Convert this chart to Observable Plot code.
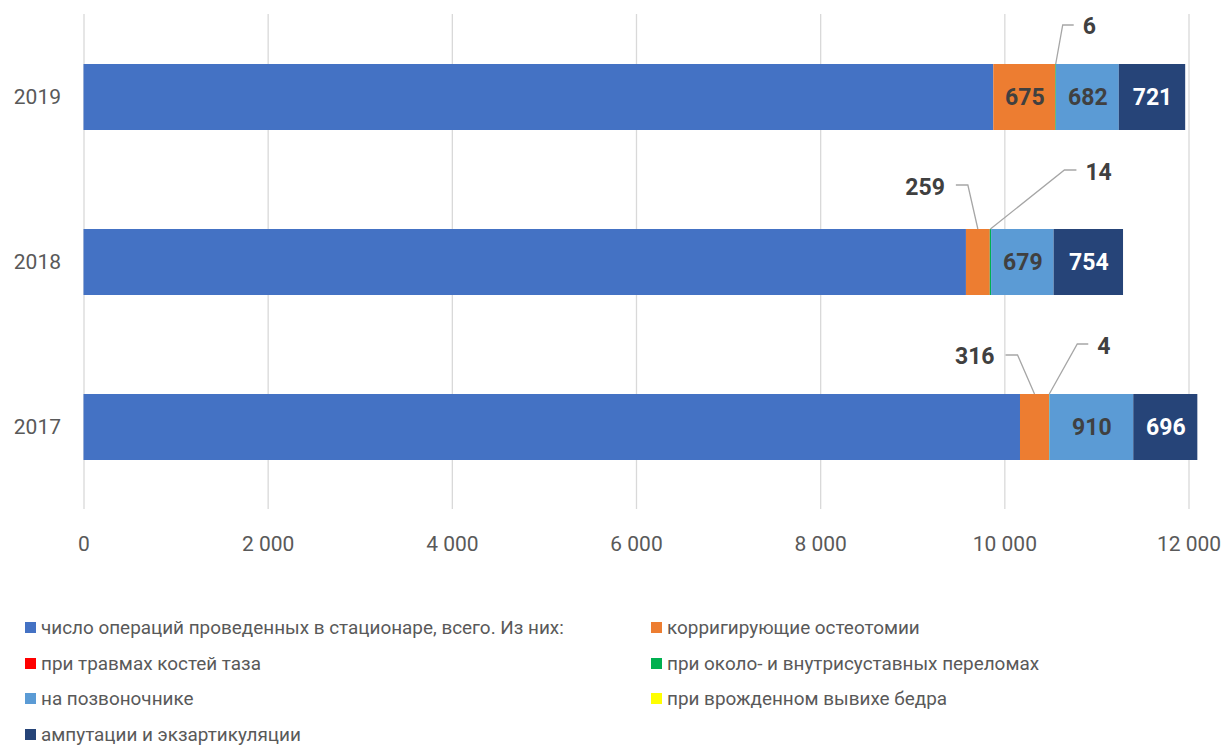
<!DOCTYPE html>
<html><head><meta charset="utf-8">
<script src="https://cdn.jsdelivr.net/npm/d3@7"></script>
<script src="https://cdn.jsdelivr.net/npm/@observablehq/plot@0.6"></script>
<style>
body{margin:0;background:#fff;font-family:Roboto,"Open Sans",sans-serif;}
#chart svg{display:block;}
#legend{display:grid;grid-template-columns:626px 560px;padding:20px 0 0 25px;}
.item{height:35.5px;display:flex;align-items:center;font-size:18.9px;color:#595959;white-space:nowrap;}
.sw{width:11px;height:11px;margin-right:5px;flex:none;}
</style></head><body>
<div id="chart"></div>
<div id="legend"></div>
<script>
// ---- data ----
const years = ["2019", "2018", "2017"];
const seriesNames = [
  "число операций проведенных в стационаре, всего. Из них:",
  "корригирующие остеотомии",
  "при травмах костей таза",
  "при около- и внутрисуставных переломах",
  "на позвоночнике",
  "при врожденном вывихе бедра",
  "ампутации и экзартикуляции"
];
const seriesColors = ["#4472C4", "#ED7D31", "#FF0000", "#00B050", "#5B9BD5", "#FFFF00", "#264478"];
const totalOps      = [9880, 9583, 10170];
const osteotomy     = [675, 259, 316];
const pelvis        = [0, 0, 0];
const periArticular = [6, 14, 4];
const spine         = [682, 679, 910];
const congenitalHip = [0, 0, 0];
const amputation    = [721, 754, 696];
const xTicks = [0, 2000, 4000, 6000, 8000, 10000, 12000];

const seriesValues = [totalOps, osteotomy, pelvis, periArticular, spine, congenitalHip, amputation];
// which labels are shown inside bars (series index) and which as callouts
const insideLabelSeries = [4, 6];
const insideExtra = [{year: "2019", s: 1}];
// callouts: series index, year, pixel leader offsets relative to segment middle at bar top
const callouts = [
  {year: "2019", s: 3, elbow: [7, -39], end: [18, -39], text: [27, -38], anchor: "start"},
  {year: "2018", s: 3, elbow: [74, -59], end: [86, -59], text: [95, -57], anchor: "start"},
  {year: "2017", s: 3, elbow: [28, -50], end: [39, -50], text: [48, -48], anchor: "start"},
  {year: "2018", s: 1, elbow: [-10, -44], end: [-22, -44], text: [-33, -42], anchor: "end"},
  {year: "2017", s: 1, elbow: [-17, -39], end: [-29, -39], text: [-40, -38], anchor: "end"}
];

// ---- build table ----
const data = [];
years.forEach((y, yi) => {
  seriesNames.forEach((name, si) => {
    data.push({year: y, series: name, si, value: seriesValues[si][yi]});
  });
});
const showInside = d => insideLabelSeries.includes(d.si) || insideExtra.some(e => e.year === d.year && e.s === d.si);

const fmt = d => d3.format(",")(d).replace(/,/g, "\u00a0");
const labelFont = "Roboto, sans-serif";

const plot = Plot.plot({
  width: 1224,
  height: 590,
  marginLeft: 83.5,
  marginRight: 35.5,
  marginTop: 14,
  marginBottom: 81,
  style: {fontFamily: labelFont, background: "#fff"},
  x: {domain: [0, 12000], ticks: xTicks, tickFormat: fmt, label: null},
  y: {domain: years, paddingInner: 0.6, paddingOuter: 0.3, label: null},
  color: {domain: seriesNames, range: seriesColors},
  marks: [
    Plot.gridX(xTicks, {stroke: "#d9d9d9", strokeOpacity: 1, strokeWidth: 1.3}),
    Plot.barX(data, Plot.stackX({x: "value", y: "year", fill: "series", order: seriesNames})),
    Plot.text(data, Plot.stackX({
      x: "value", y: "year", order: seriesNames,
      text: d => showInside(d) ? String(d.value) : null,
      fill: d => d.si === 6 ? "#ffffff" : "#404040",
      fontSize: 23, fontWeight: "bold"
    })),
    Plot.axisX({ticks: xTicks, tickFormat: fmt, tickSize: 0, tickPadding: 27, fontSize: 21, fill: "#595959", label: null}),
    Plot.axisY({tickSize: 0, tickPadding: 23, fontSize: 21, fill: "#595959", label: null})
  ]
});
document.getElementById("chart").appendChild(plot);

// ---- callouts with leader lines, positioned through the plot's scales ----
const xs = plot.scale("x"), ys = plot.scale("y");
const svg = d3.select(plot);
const g = svg.append("g");
callouts.forEach(c => {
  const yi = years.indexOf(c.year);
  let start = 0;
  for (let i = 0; i < c.s; i++) start += seriesValues[i][yi];
  const v = seriesValues[c.s][yi];
  const ax = xs.apply(start + v / 2);
  const ay = ys.apply(c.year);
  g.append("path")
    .attr("d", `M${ax},${ay}L${ax + c.elbow[0]},${ay + c.elbow[1]}L${ax + c.end[0]},${ay + c.end[1]}`)
    .attr("fill", "none").attr("stroke", "#a6a6a6").attr("stroke-width", 1.3);
  g.append("text")
    .attr("x", ax + c.text[0]).attr("y", ay + c.text[1])
    .attr("dy", "0.35em")
    .attr("text-anchor", c.anchor)
    .attr("font-family", labelFont).attr("font-size", 23).attr("font-weight", "bold")
    .attr("fill", "#404040")
    .text(String(v));
});

// ---- legend ----
const leg = document.getElementById("legend");
seriesNames.forEach((n, i) => {
  const it = document.createElement("div");
  it.className = "item";
  it.innerHTML = `<span class="sw" style="background:${seriesColors[i]}"></span><span></span>`;
  it.lastChild.textContent = n;
  leg.appendChild(it);
});
</script>
</body></html>
